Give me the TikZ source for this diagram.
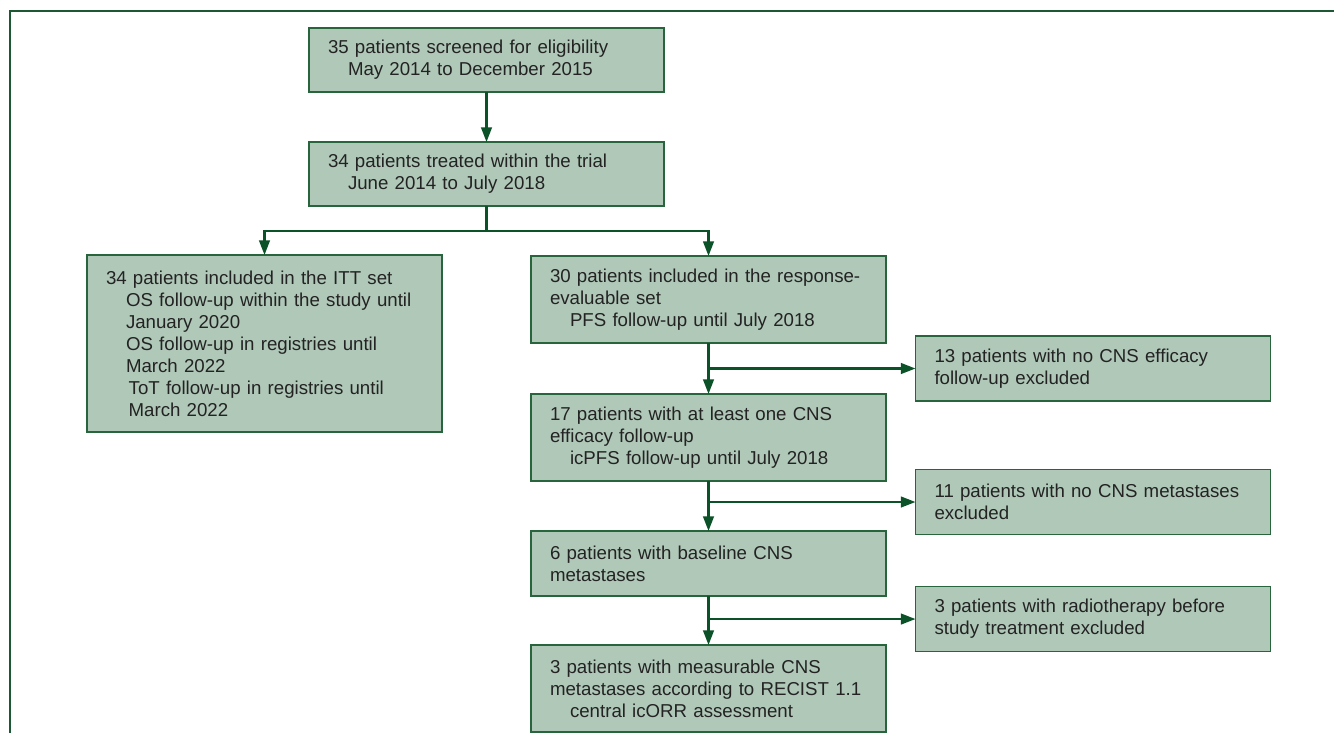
\documentclass[tikz,border=0pt]{standalone}
\usepackage{fontspec}
\setmainfont{Liberation Sans}
\usepackage{xcolor}
\usepackage{tikz}
\usetikzlibrary{arrows.meta, positioning, calc}

\definecolor{boxfill}{RGB}{176,200,184}
\definecolor{boxline}{RGB}{40,100,60}
\definecolor{arrowgreen}{RGB}{12,82,40}
\definecolor{framegreen}{RGB}{28,88,52}
\definecolor{textgray}{RGB}{35,35,35}
\newcommand{\indline}{\hspace*{15pt}}

\begin{document}
\begin{tikzpicture}[
    x=0.75pt, y=-0.75pt,
    node distance=37.5pt,
    every node/.style={font=\fontsize{14pt}{16.5pt}\selectfont, text=textgray},
    box/.style={rectangle, draw=boxline, line width=1.1pt, fill=boxfill, text width=237.75pt, inner xsep=14.25pt, inner ysep=0pt, outer sep=0pt, align=left, minimum height=48.75pt},
    tallbox/.style={box, minimum height=65.25pt},
    arrow/.style={-{Triangle[length=11pt,width=8pt]}, line width=1.7pt, draw=arrowgreen}
]
\useasboundingbox (0,0) rectangle (1334,733);

% Frame
\draw[framegreen, line width=2.2pt] (10,733) -- (10,11) -- (1334,11);

% Main flow
\node[box, minimum height=48pt] (screened) at (486.5,60) {35 patients screened for eligibility\\\indline May 2014 to December 2015};
\node[box, minimum height=48pt, below=of screened] (treated) {34 patients treated within the trial\\\indline June 2014 to July 2018};
\node[box, minimum height=132.75pt, below=36.75pt of treated, xshift=-166.5pt] (itt) {34 patients included in the ITT set\\\indline OS follow-up within the study until\\\indline January 2020\\\indline OS follow-up in registries until\\\indline March 2022\\\hspace*{17pt}ToT follow-up in registries until\\\hspace*{17pt}March 2022};
\node[tallbox, below=of treated, xshift=166.5pt] (resp) {30 patients included in the response-\\evaluable set\\\indline PFS follow-up until July 2018};
\node[tallbox, below=38.25pt of resp] (cnsfu) {17 patients with at least one CNS\\efficacy follow-up\\\indline icPFS follow-up until July 2018};
\node[box, below=of cnsfu] (cnsmet) {6 patients with baseline CNS\\metastases};
\node[tallbox, below=36.75pt of cnsmet] (measurable) {3 patients with measurable CNS\\metastases according to RECIST 1.1\\\indline central icORR assessment};

% Exclusions
\coordinate (split1) at ($(resp.south)!0.5!(cnsfu.north)$);
\coordinate (split2) at ($(cnsfu.south)!0.42!(cnsmet.north)$);
\coordinate (split3) at ($(cnsmet.south)!0.47!(measurable.north)$);
\node[box, right=155.25pt of split1] (nofu) {13 patients with no CNS efficacy\\follow-up excluded};
\node[box, right=155.25pt of split2] (nomet) {11 patients with no CNS metastases\\excluded};
\node[box, right=155.25pt of split3] (radio) {3 patients with radiotherapy before\\study treatment excluded};

% Arrows
\draw[arrow] (screened) -- (treated);
\draw[arrow] (treated.south) -- ++(0,-18.75pt) -| (itt.north);
\draw[arrow] (treated.south) -- ++(0,-18.75pt) -| (resp.north);
\draw[arrow] (resp) -- (cnsfu);
\draw[arrow] (cnsfu) -- (cnsmet);
\draw[arrow] (cnsmet) -- (measurable);
\draw[arrow] (split1) -- (nofu);
\draw[arrow] (split2) -- (nomet);
\draw[arrow] (split3) -- (radio);

\end{tikzpicture}
\end{document}
